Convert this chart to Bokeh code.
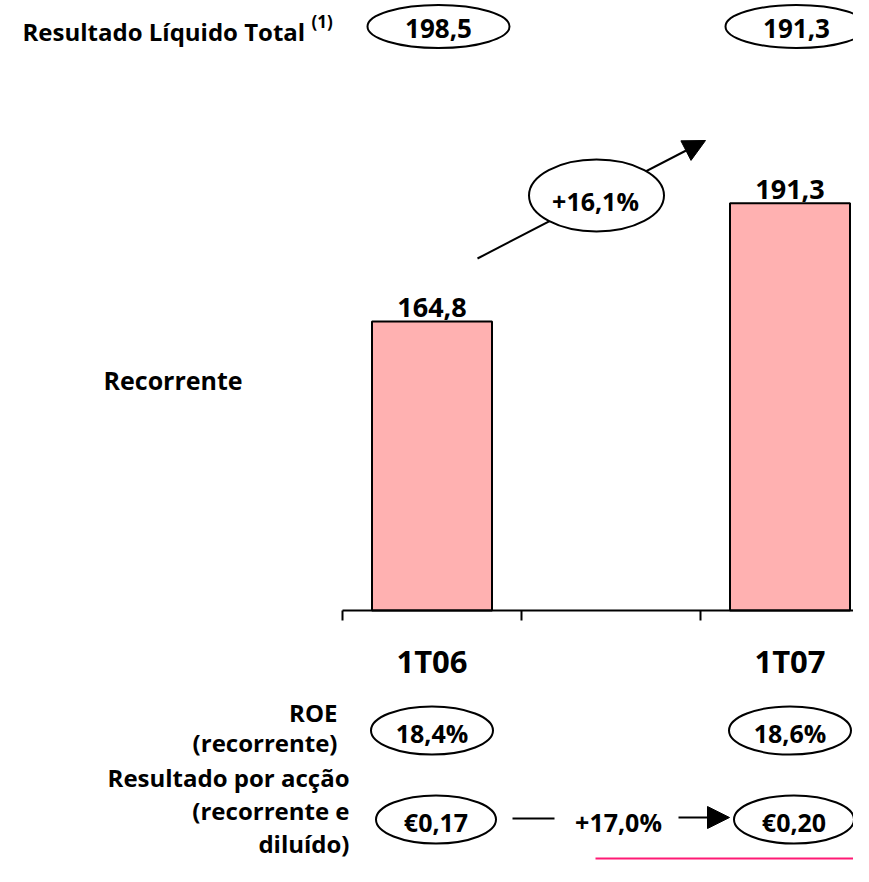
from bokeh.plotting import figure
from bokeh.models import Range1d, Arrow, NormalHead, ColumnDataSource
from bokeh.core.properties import value
from bokeh.embed import file_html
from bokeh.resources import INLINE

# ---------------- data ----------------
categories = ["1T06", "1T07"]
slot_index = [0, 2]                 # category slots on the x axis (middle slot empty)
recorrente = [164.8, 191.3]         # Recorrente (bars)
total = [198.5, 191.3]              # Resultado Líquido Total (1)
roe = [18.4, 18.6]                  # ROE (recorrente), %
eps = [0.17, 0.20]                  # Resultado por acção, €
growth_rec = 16.1                   # % growth of recorrente
growth_eps = 17.0                   # % growth of EPS
baseline = 100                      # value axis starts at 100

def fmt(v, d=1):
    return f"{v:.{d}f}".replace(".", ",")

# ---------------- layout helpers (canvas pixel -> data) ----------------
X0, SLOT = 342.0, 179.0
K = 4.46
def dx(px):
    return (px - X0) / SLOT
def dy(py):
    return baseline + (610.0 - py) / K

FONT = value("Open Sans")
W, H = 853, 866

p = figure(width=W, height=H, x_range=Range1d(dx(0), dx(W)),
           y_range=Range1d(dy(H), dy(0)), output_backend="svg",
           toolbar_location=None, min_border=0)
p.xaxis.visible = False
p.yaxis.visible = False
p.grid.visible = False
p.outline_line_color = None
p.background_fill_color = "white"
p.border_fill_color = "white"

centers = [i + 0.5 for i in slot_index]

def label(xs, ys, texts, size, align="center"):
    p.text(x=xs, y=ys, text=texts, text_font=FONT, text_font_style="bold",
           text_font_size=size, text_align=align, text_baseline="alphabetic",
           text_color="black")

# ---------------- bars ----------------
src = ColumnDataSource(dict(x=centers, top=recorrente,
                            lab=[fmt(v) for v in recorrente]))
p.vbar(x="x", top="top", bottom=baseline, width=120 / SLOT, source=src,
       fill_color="#FFB1B1", line_color="black", line_width=2)
p.text(x="x", y="top", text="lab", source=src, y_offset=-14,
       text_font=FONT, text_font_style="bold", text_font_size="27px",
       text_align="center", text_baseline="alphabetic", text_color="black")

# ---------------- category axis (drawn) ----------------
p.segment(x0=[dx(342)], y0=[baseline], x1=[dx(W + 5)], y1=[baseline],
          line_color="black", line_width=2)
ticks = [0, 1, 2]
p.segment(x0=ticks, y0=[baseline] * 3, x1=ticks, y1=[baseline - 10 / K] * 3,
          line_color="black", line_width=2)
label(centers, [dy(660)] * 2, categories, "31px")

# ---------------- growth arrow ----------------
p.add_layout(Arrow(x_start=dx(477), y_start=dy(258), x_end=dx(705), y_end=dy(140),
                   line_width=2, line_color="black", level="underlay",
                   end=NormalHead(size=22, fill_color="black", line_color="black")))
p.ellipse(x=[dx(596)], y=[dy(195)], width=135, height=72,
          width_units="screen", height_units="screen",
          fill_color="white", line_color="black", line_width=2)
label([dx(595)], [dy(200)], ["+" + fmt(growth_rec) + "%"], "25px")

# ---------------- Resultado Líquido Total ----------------
top_x = [c + 6.5 / SLOT for c in centers]
p.ellipse(x=top_x, y=[dy(26)] * 2, width=142, height=43,
          width_units="screen", height_units="screen",
          fill_color="white", line_color="black", line_width=2)
label(top_x, [dy(28)] * 2, [fmt(v) for v in total], "26px")
label([dx(22)], [dy(31)], ["Resultado Líquido Total"], "24px", "left")
label([dx(311)], [dy(21)], ["(1)"], "17px", "left")

# ---------------- Recorrente label ----------------
label([dx(103)], [dy(379)], ["Recorrente"], "25px", "left")

# ---------------- ROE ----------------
label([dx(337)] * 2, [dy(712), dy(742)], ["ROE", "(recorrente)"], "24px", "right")
p.ellipse(x=centers, y=[dy(730)] * 2, width=122, height=48,
          width_units="screen", height_units="screen",
          fill_color="white", line_color="black", line_width=2)
label(centers, [dy(732)] * 2, [fmt(v) + "%" for v in roe], "25px")

# ---------------- EPS ----------------
label([dx(349)] * 3, [dy(777), dy(810), dy(843)],
      ["Resultado por acção", "(recorrente e", "diluído)"], "24px", "right")
eps_x = [c + 4 / SLOT for c in centers]
p.ellipse(x=eps_x, y=[dy(819)] * 2, width=120, height=48,
          width_units="screen", height_units="screen",
          fill_color="white", line_color="black", line_width=2)
label(eps_x, [dy(821)] * 2, ["€" + fmt(v, 2) for v in eps], "25px")
p.segment(x0=[dx(512)], y0=[dy(818)], x1=[dx(554)], y1=[dy(818)],
          line_color="black", line_width=2)
label([dx(618)], [dy(821)], ["+" + fmt(growth_eps) + "%"], "25px")
p.add_layout(Arrow(x_start=dx(678), y_start=dy(817), x_end=dx(729), y_end=dy(817),
                   line_width=2, line_color="black",
                   end=NormalHead(size=22, fill_color="black", line_color="black")))
p.segment(x0=[dx(595)], y0=[dy(858)], x1=[dx(W + 5)], y1=[dy(858)],
          line_color="#FF1A75", line_width=2)

open("out.html", "w").write(file_html(p, INLINE))
